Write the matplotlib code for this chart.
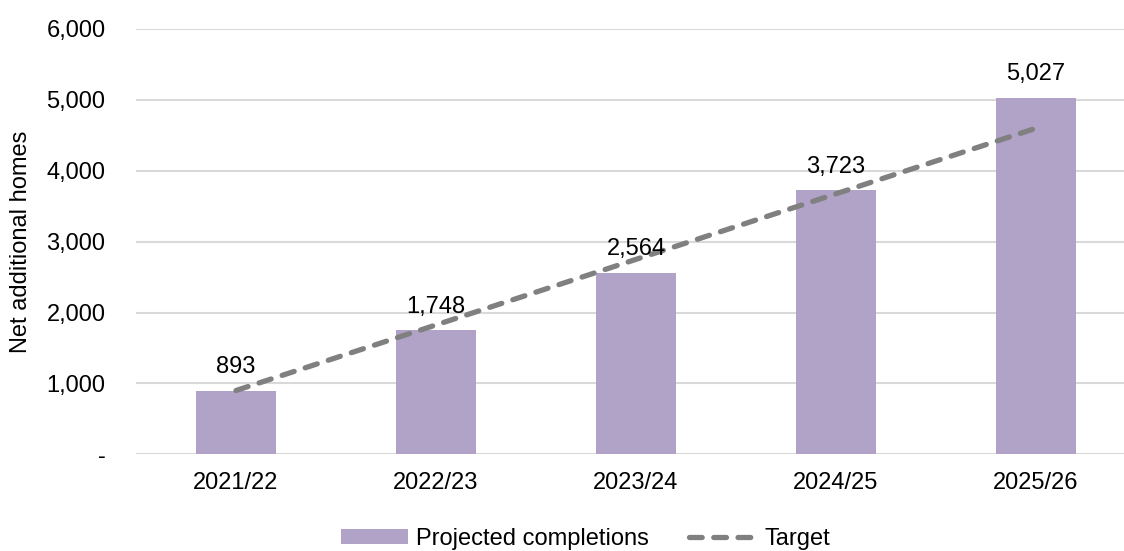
import matplotlib
matplotlib.use("Agg")
import matplotlib.pyplot as plt
from matplotlib.ticker import FuncFormatter

years = ["2021/22", "2022/23", "2023/24", "2024/25", "2025/26"]
completions = [893, 1748, 2564, 3723, 5027]
target = [900, 1825, 2750, 3675, 4600]

BAR = "#b1a3c8"
LINE = "#808080"
FS = 17

plt.rcParams["font.family"] = ["Liberation Sans", "DejaVu Sans"]

fig = plt.figure(figsize=(11.24, 5.51), dpi=100)
ax = fig.add_axes([0.121, 0.1755, 0.879, 0.7719])

x = range(len(years))
bars = ax.bar(x, completions, width=0.4, color=BAR, label="Projected completions", zorder=2)
line, = ax.plot(x, target, color=LINE, lw=3.8, ls=(0, (2.4, 2.2)), dash_capstyle="round",
                label="Target", zorder=3)

for xi, v in zip(x, completions):
    ax.annotate(f"{v:,}", (xi, v), xytext=(0, 9), textcoords="offset points",
                ha="center", va="bottom", fontsize=FS, zorder=4)

ax.set_xlim(-0.5, 4.44)
ax.set_ylim(0, 6000)
ax.set_yticks(range(0, 6001, 1000))
ax.yaxis.set_major_formatter(FuncFormatter(lambda v, _: "-" if v == 0 else f"{int(v):,}"))
ax.set_xticks(list(x))
ax.set_xticklabels(years)
ax.tick_params(axis="both", length=0, labelsize=FS)
ax.tick_params(axis="x", pad=13)
ax.tick_params(axis="y", pad=22)
ax.grid(axis="y", color="#d9d9d9", lw=1.5, zorder=0)
for s in ax.spines.values():
    s.set_visible(False)
ax.set_ylabel("Net additional homes", fontsize=FS, labelpad=10)

fig.legend([bars, line], ["Projected completions", "Target"],
           loc="center", bbox_to_anchor=(0.521, 0.022), ncol=2, frameon=False,
           fontsize=FS, handlelength=2.85, handleheight=0.55, columnspacing=1.7,
           handletextpad=0.35, borderpad=0)

fig.savefig("out.png", dpi=100)
